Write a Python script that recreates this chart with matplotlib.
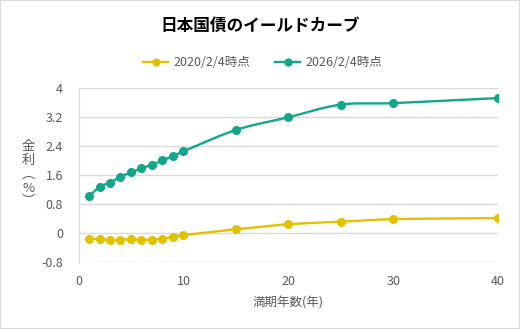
import numpy as np
import matplotlib.pyplot as plt
from matplotlib.patches import Rectangle

plt.rcParams['font.family'] = ['Noto Sans CJK JP', 'DejaVu Sans']

maturity = [1, 2, 3, 4, 5, 6, 7, 8, 9, 10, 15, 20, 25, 30, 40]
yield_2020 = [-0.15, -0.16, -0.19, -0.18, -0.17, -0.18, -0.18, -0.15, -0.09, -0.05,
              0.11, 0.25, 0.32, 0.39, 0.42]
yield_2026 = [1.02, 1.28, 1.40, 1.56, 1.68, 1.79, 1.89, 2.01, 2.13, 2.26,
              2.85, 3.20, 3.55, 3.59, 3.73]
label_2020 = '2020/2/4時点'
label_2026 = '2026/2/4時点'
y_ticks = [-0.8, 0, 0.8, 1.6, 2.4, 3.2, 4]
x_ticks = [0, 10, 20, 30, 40]

c_2020 = '#E0C200'
c_2026 = '#12A78A'
gray = '#595959'


def smooth(xs, ys, n=20):
    # Catmull-Rom curve through the points, like a spreadsheet "smoothed line"
    xs = np.asarray(xs, float)
    ys = np.asarray(ys, float)
    px = np.concatenate([[xs[0]], xs, [xs[-1]]])
    py = np.concatenate([[ys[0]], ys, [ys[-1]]])
    ox, oy = [], []
    t = np.linspace(0, 1, n)
    for i in range(1, len(px) - 2):
        p0, p1, p2, p3 = (np.array([px[j], py[j]]) for j in range(i - 1, i + 3))
        b1 = p1 + (p2 - p0) / 6
        b2 = p2 - (p3 - p1) / 6
        for tt in t:
            pt = ((1 - tt) ** 3) * p1 + 3 * ((1 - tt) ** 2) * tt * b1 \
                + 3 * (1 - tt) * tt ** 2 * b2 + tt ** 3 * p2
            ox.append(pt[0])
            oy.append(pt[1])
    return ox, oy


fig = plt.figure(figsize=(5.2, 3.29), dpi=100)
fig.patches.append(Rectangle((0, 0), 1, 1, transform=fig.transFigure,
                             fill=False, edgecolor='#d9d9d9', linewidth=1.5))
ax = fig.add_axes([0.151, 0.2027, 0.807, 0.529])

for ys, col, lab in [(yield_2020, c_2020, label_2020), (yield_2026, c_2026, label_2026)]:
    sx, sy = smooth(maturity, ys)
    ax.plot(sx, sy, color=col, linewidth=1.7, solid_capstyle='round')
    ax.plot(maturity, ys, 'o', color=col, markersize=5.5)
    ax.plot([], [], color=col, marker='o', markersize=5, linewidth=1.7, label=lab)

ax.set_xlim(0, 40)
ax.set_ylim(-0.8, 4)
ax.set_xticks(x_ticks)
ax.set_yticks(y_ticks)
ax.set_yticklabels([f'{v:g}' for v in y_ticks])
ax.grid(axis='y', color='#d9d9d9', linewidth=1)
ax.set_axisbelow(True)
for side in ['top', 'right', 'bottom']:
    ax.spines[side].set_visible(False)
ax.spines['left'].set_color('#d9d9d9')
ax.tick_params(length=0, labelsize=9, colors=gray, pad=9)
ax.tick_params(axis='y', pad=11)

ax.set_xlabel('満期年数(年)', fontsize=9, color=gray, labelpad=6)
fig.text(0.054, 0.47, '金\n利\n︵\n%\n︶', ha='center', va='center', fontsize=9.5,
         color=gray, linespacing=1.08)

fig.text(0.5, 0.922, '日本国債のイールドカーブ', ha='center', va='center',
         fontsize=12, fontweight='bold', color='black')
fig.legend(loc='center', bbox_to_anchor=(0.505, 0.81), ncol=2, frameon=False,
           fontsize=9, labelcolor=gray, handlelength=2.0, columnspacing=2.0,
           handletextpad=0.4)

fig.savefig('out.png', dpi=100, facecolor='white')
